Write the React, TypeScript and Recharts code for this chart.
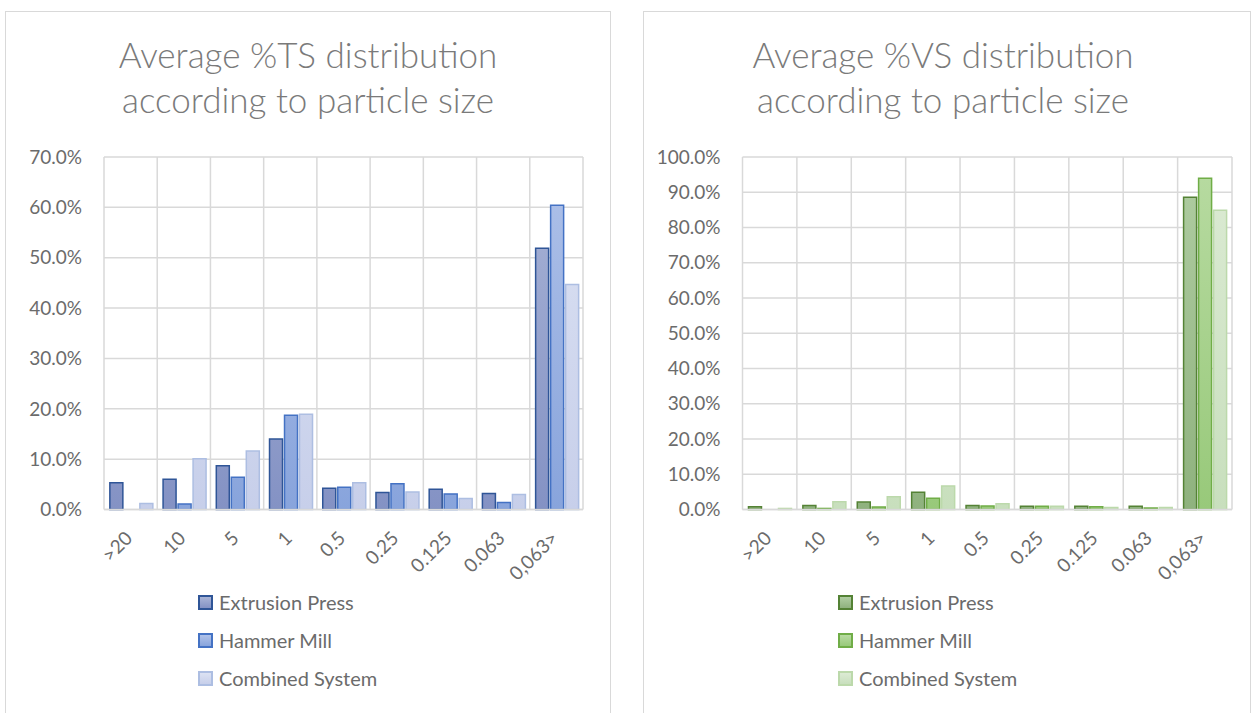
import React from 'react';
import { BarChart, Bar, XAxis, YAxis, CartesianGrid, Legend } from 'recharts';

const categories = ['>20', '10', '5', '1', '0.5', '0.25', '0.125', '0.063', '0,063>'];
const seriesNames = ['Extrusion Press', 'Hammer Mill', 'Combined System'];

const tsExtrusion = [5.3, 6.0, 8.7, 14.0, 4.2, 3.4, 4.0, 3.2, 51.9];
const tsHammer = [0, 1.1, 6.4, 18.7, 4.4, 5.1, 3.1, 1.4, 60.4];
const tsCombined = [1.2, 10.1, 11.6, 18.9, 5.3, 3.5, 2.2, 3.0, 44.7];

const vsExtrusion = [0.8, 1.1, 2.1, 4.9, 1.1, 0.9, 0.9, 0.9, 88.6];
const vsHammer = [0, 0.3, 0.7, 3.2, 1.0, 0.95, 0.8, 0.4, 94.0];
const vsCombined = [0.3, 2.2, 3.6, 6.7, 1.6, 0.9, 0.6, 0.6, 84.9];

const tsTicks = [0, 10, 20, 30, 40, 50, 60, 70];
const vsTicks = [0, 10, 20, 30, 40, 50, 60, 70, 80, 90, 100];

const FONT = "Lato, 'Noto Sans', sans-serif";
const TEXT = '#6b6b6b';
const TITLE = '#7a7a7a';
const GRID = '#d9d9d9';

type SeriesStyle = { top: string; bottom: string; stroke: string };

const tsStyles: SeriesStyle[] = [
  { top: '#a9b4d6', bottom: '#8492c4', stroke: '#2f5597' },
  { top: '#b0c2e9', bottom: '#88a4dc', stroke: '#4472c4' },
  { top: '#dce2f3', bottom: '#c7cfea', stroke: '#adbee2' },
];
const vsStyles: SeriesStyle[] = [
  { top: '#b0cda2', bottom: '#8fb27e', stroke: '#548235' },
  { top: '#b8dba2', bottom: '#98c97a', stroke: '#70ad47' },
  { top: '#dcebd4', bottom: '#c8dfbd', stroke: '#bcd9ab' },
];

const PLOT_TOP = 145;
const PLOT_BOTTOM = 497.5;

const XTick = (props: any) => {
  const { x, y, payload } = props;
  const ax = x + 3;
  const ay = y + 22;
  return (
    <text
      x={ax}
      y={ay}
      transform={`rotate(-45 ${ax} ${ay})`}
      textAnchor="end"
      fill={TEXT}
      fontSize={19}
      fontFamily={FONT}
    >
      {payload.value}
    </text>
  );
};

function makeLegend(styles: SeriesStyle[]) {
  return () => (
    <div style={{ fontFamily: FONT }}>
      {seriesNames.map((n, i) => (
        <div key={n} style={{ display: 'flex', alignItems: 'center', height: 38 }}>
          <div
            style={{
              width: 11,
              height: 11,
              border: `2px solid ${styles[i].stroke}`,
              background: `linear-gradient(${styles[i].top}, ${styles[i].bottom})`,
              marginRight: 6,
            }}
          />
          <span style={{ fontSize: 20, color: TEXT, whiteSpace: 'nowrap' }}>{n}</span>
        </div>
      ))}
    </div>
  );
}

type PanelProps = {
  left: number;
  width: number;
  title1: string;
  title2: string;
  titleShift: number;
  ep: number[];
  hm: number[];
  cs: number[];
  ticks: number[];
  styles: SeriesStyle[];
  idp: string;
  marginLeft: number;
  marginRight: number;
  legendLeft: number;
};

function Panel(p: PanelProps) {
  const data = categories.map((c, i) => ({ cat: c, ep: p.ep[i], hm: p.hm[i], cs: p.cs[i] }));
  const inner = p.width - 2;
  const H = 700;
  const keys = ['ep', 'hm', 'cs'];
  const n = categories.length;
  return (
    <div
      style={{
        position: 'absolute',
        left: p.left,
        top: 11,
        width: p.width,
        height: 720,
        border: `1px solid ${GRID}`,
        boxSizing: 'border-box',
        background: '#fff',
      }}
    >
      <div
        style={{
          position: 'absolute',
          top: 20,
          left: p.titleShift,
          width: inner,
          textAlign: 'center',
          fontFamily: FONT,
          fontSize: 35,
          fontWeight: 300,
          lineHeight: '45px',
          color: TITLE,
        }}
      >
        <div>{p.title1}</div>
        <div>{p.title2}</div>
      </div>
      <BarChart
        width={inner}
        height={H}
        data={data}
        margin={{ top: PLOT_TOP, left: p.marginLeft, right: p.marginRight, bottom: H - PLOT_BOTTOM - 80 }}
        barCategoryGap="11%"
        barGap={2}
      >
        <defs>
          {p.styles.map((s, i) => (
            <linearGradient
              key={i}
              id={`${p.idp}${i}`}
              gradientUnits="userSpaceOnUse"
              x1="0"
              y1={PLOT_TOP}
              x2="0"
              y2={PLOT_BOTTOM}
            >
              <stop offset="0%" stopColor={s.top} />
              <stop offset="100%" stopColor={s.bottom} />
            </linearGradient>
          ))}
        </defs>
        <CartesianGrid
          stroke={GRID}
          strokeWidth={1.5}
          verticalCoordinatesGenerator={({ offset }: any) =>
            Array.from({ length: n + 1 }, (_, i) => offset.left + (i * offset.width) / n)
          }
        />
        <XAxis
          dataKey="cat"
          interval={0}
          height={80}
          tickLine={false}
          axisLine={{ stroke: GRID, strokeWidth: 1.5 }}
          tick={<XTick />}
        />
        <YAxis
          type="number"
          domain={[0, p.ticks[p.ticks.length - 1]]}
          ticks={p.ticks}
          width={80}
          axisLine={false}
          tickLine={false}
          tickMargin={16}
          tickFormatter={(v: number) => `${v.toFixed(1)}%`}
          tick={{ fill: TEXT, fontSize: 19, fontFamily: FONT }}
        />
        <Legend
          layout="vertical"
          align="center"
          verticalAlign="middle"
          content={makeLegend(p.styles)}
          wrapperStyle={{ position: 'absolute', left: p.legendLeft, top: 571, width: 260, height: 120 }}
        />
        {keys.map((k, i) => (
          <Bar
            key={k}
            dataKey={k}
            name={seriesNames[i]}
            fill={`url(#${p.idp}${i})`}
            stroke={p.styles[i].stroke}
            strokeWidth={1.5}
            isAnimationActive={false}
          />
        ))}
      </BarChart>
    </div>
  );
}

export default function App() {
  return (
    <div style={{ position: 'absolute', left: 0, top: 0, width: 1252, height: 713, overflow: 'hidden', background: '#fff' }}>
      <Panel
        left={5}
        width={606}
        title1="Average %TS distribution"
        title2="according to particle size"
        titleShift={0}
        ep={tsExtrusion}
        hm={tsHammer}
        cs={tsCombined}
        ticks={tsTicks}
        styles={tsStyles}
        idp="tsg"
        marginLeft={18}
        marginRight={27}
        legendLeft={192}
      />
      <Panel
        left={643}
        width={608}
        title1="Average %VS distribution"
        title2="according to particle size"
        titleShift={-4}
        ep={vsExtrusion}
        hm={vsHammer}
        cs={vsCombined}
        ticks={vsTicks}
        styles={vsStyles}
        idp="vsg"
        marginLeft={18.5}
        marginRight={18}
        legendLeft={194}
      />
    </div>
  );
}
